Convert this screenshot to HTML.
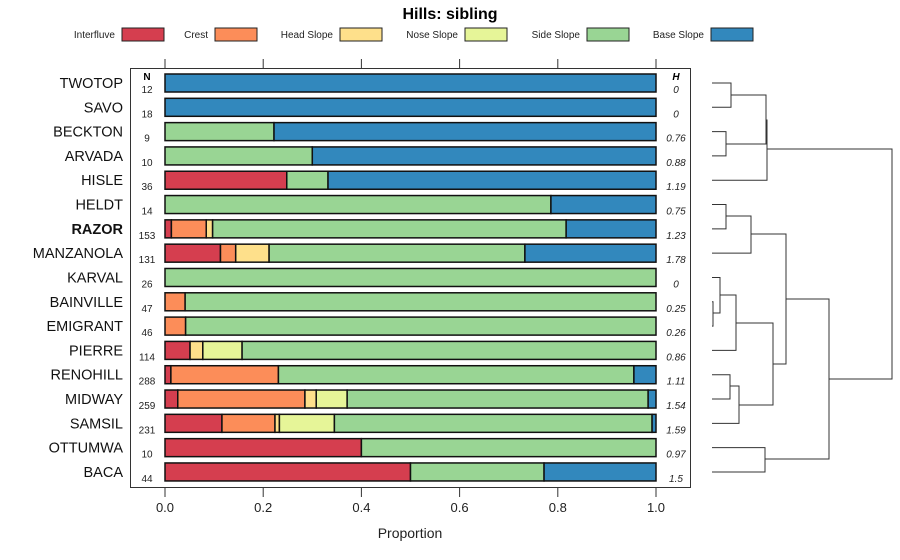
<!DOCTYPE html>
<html><head><meta charset="utf-8"><style>
body{margin:0;background:#fff}
svg{display:block;font-family:"Liberation Sans",sans-serif}
</style></head><body>
<svg id="c" width="900" height="560" xmlns="http://www.w3.org/2000/svg"></svg>
<script>
const names=["TWOTOP","SAVO","BECKTON","ARVADA","HISLE","HELDT","RAZOR","MANZANOLA","KARVAL","BAINVILLE","EMIGRANT","PIERRE","RENOHILL","MIDWAY","SAMSIL","OTTUMWA","BACA"];
const nCounts=[12,18,9,10,36,14,153,131,26,47,46,114,288,259,231,10,44];
const hVals=["0","0","0.76","0.88","1.19","0.75","1.23","1.78","0","0.25","0.26","0.86","1.11","1.54","1.59","0.97","1.5"];
const classes=["Interfluve","Crest","Head Slope","Nose Slope","Side Slope","Base Slope"];
const colors=["#D53E4F","#FC8D59","#FEE08B","#E6F598","#99D594","#3288BD"];
const interfluve=[0,0,0,0,0.248,0,0.013,0.113,0,0,0,0.051,0.012,0.026,0.116,0.40,0.50];
const crest=[0,0,0,0,0,0,0.071,0.031,0,0.041,0.042,0,0.219,0.259,0.108,0,0];
const headSlope=[0,0,0,0,0,0,0.013,0.068,0,0,0,0.026,0,0.023,0.009,0,0];
const noseSlope=[0,0,0,0,0,0,0,0,0,0,0,0.080,0,0.063,0.112,0,0];
const sideSlope=[0,0,0.222,0.30,0.084,0.786,0.720,0.521,1,0.959,0.958,0.843,0.724,0.613,0.647,0.60,0.272];
const baseSlope=[1,1,0.778,0.70,0.668,0.214,0.183,0.267,0,0,0,0,0.045,0.016,0.008,0,0.228];
const xTicks=[0,0.2,0.4,0.6,0.8,1.0];
const series=[interfluve,crest,headSlope,noseSlope,sideSlope,baseSlope];

const svg=document.getElementById('c');
const NS="http://www.w3.org/2000/svg";
function mk(t,a,txt){const e=document.createElementNS(NS,t);for(const k in a)e.setAttribute(k,a[k]);if(txt!=null)e.textContent=txt;svg.appendChild(e);return e;}
const X=v=>165+v*491;
const Y=i=>83+i*24.31;

let e=mk('text',{x:450,y:19,'text-anchor':'middle','font-size':16,'font-weight':'bold'},'Hills: sibling');



const legX=[122,215,340,465,587,711];
classes.forEach((c,k)=>{
 let t=mk('text',{x:legX[k]-7,y:38,'text-anchor':'end','font-size':10,fill:'#222'},c);
 
 
 let r=mk('rect',{x:legX[k],y:28,width:42,height:13,fill:colors[k],stroke:'#222','stroke-width':1});
 
 
});

e=mk('rect',{x:130.5,y:68.5,width:560,height:419,fill:'none',stroke:'#333','stroke-width':1});



xTicks.forEach(v=>{
 let l=mk('line',{x1:X(v),x2:X(v),y1:59,y2:68,stroke:'#333'});
 
 
 l=mk('line',{x1:X(v),x2:X(v),y1:488,y2:497,stroke:'#333'});
 
 
 let t=mk('text',{x:X(v),y:512,'text-anchor':'middle','font-size':13,fill:'#222'},v.toFixed(1));
 
 
});
e=mk('text',{x:410,y:538,'text-anchor':'middle','font-size':14,fill:'#222'},'Proportion');



e=mk('text',{x:147,y:80,'text-anchor':'middle','font-size':10,'font-weight':'bold'},'N');


e=mk('text',{x:676,y:80,'text-anchor':'middle','font-size':10,'font-weight':'bold','font-style':'italic'},'H');



names.forEach((n,i)=>{
 const y=Y(i);
 let t=mk('text',{x:123,y:y+5,'text-anchor':'end','font-size':14.5,fill:'#111','font-weight':n==='RAZOR'?'bold':'normal'},n);
 
 
 t=mk('text',{x:147,y:y+10,'text-anchor':'middle','font-size':10,fill:'#222'},nCounts[i]);
 
 
 t=mk('text',{x:676,y:y+10,'text-anchor':'middle','font-size':10,'font-style':'italic',fill:'#222'},hVals[i]);
 
 
 let cum=0;
 series.forEach((s,k)=>{
  const v=s[i]; if(v<=0) return;
  let r=mk('rect',{x:X(cum),y:y-9,width:X(cum+v)-X(cum),height:18,fill:colors[k],stroke:'#111','stroke-width':1.5});
  
  
  cum+=v;
 });
});

const L=712;
const merges=[
 [731,Y(0),Y(1),L,L],
 [726,Y(2),Y(3),L,L],
 [766,95,144,731,726],
 [767,120,Y(4),766,L],
 [726,Y(5),Y(6),L,L],
 [751,216,Y(7),726,L],
 [713,Y(9),Y(10),L,L],
 [720,Y(8),313,L,713],
 [736,295,Y(11),720,L],
 [730,Y(12),Y(13),L,L],
 [739,386,Y(14),730,L],
 [773,323,405,736,739],
 [786,234,364,751,773],
 [765,Y(15),Y(16),L,L],
 [829,299,459,786,765],
 [892,149,379,767,829]
];
merges.forEach(m=>{
 let p=mk('path',{d:`M${m[3]},${m[1]}H${m[0]}V${m[2]}H${m[4]}`,fill:'none',stroke:'#333','stroke-width':1});
 
 
});
</script>
</body></html>
